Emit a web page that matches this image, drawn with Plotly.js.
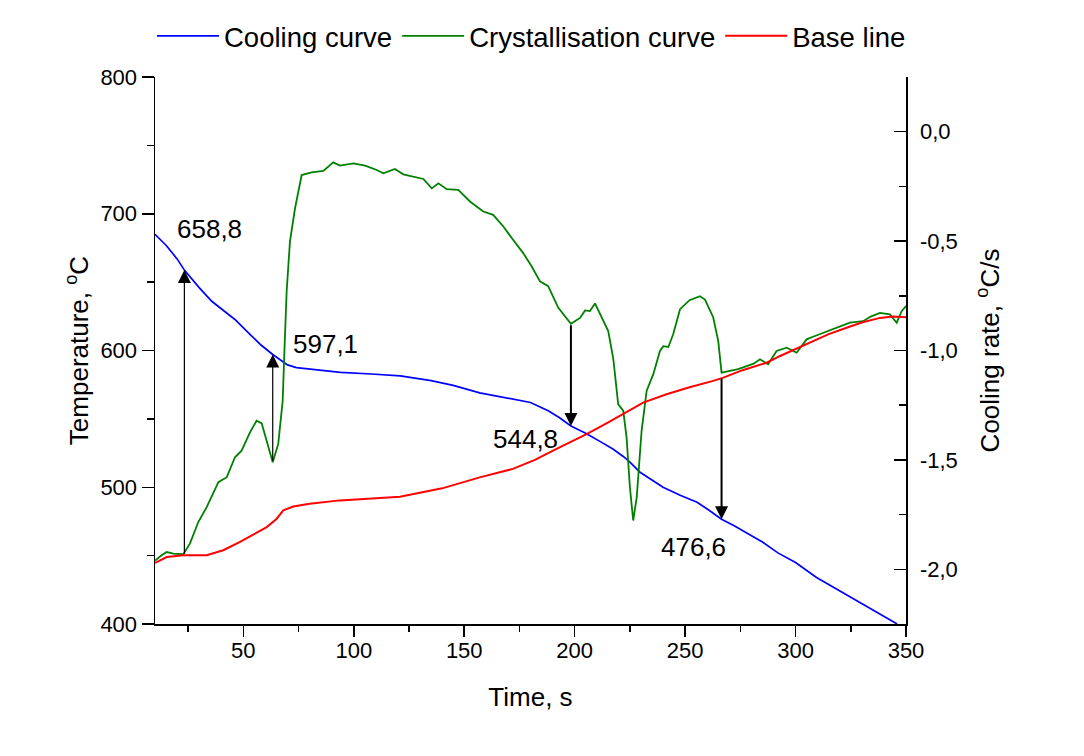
<!DOCTYPE html>
<html>
<head>
<meta charset="utf-8">
<script src="https://cdn.plot.ly/plotly-3.0.1.min.js"></script>
<style>
  html, body { margin: 0; padding: 0; background: #ffffff; }
  #chart { width: 1084px; height: 756px; }
</style>
</head>
<body>
<div id="chart"></div>
<script>
// ---- Data ----
// Cooling curve: temperature (°C) vs time (s), left axis
const coolTime = [10, 15, 20, 23.3, 30, 35.7, 42, 46.2, 53, 58, 63.3, 66, 68, 70, 74, 80, 94, 108, 121, 135, 145, 157, 170, 180, 188, 193, 198.3, 205, 212, 217.3, 222, 225, 229.6, 235, 240, 248, 255.4, 261, 266.5, 272, 278, 285, 292, 300, 309.5, 318, 327, 336, 346];
const coolTemp = [685, 677, 667, 658.8, 646, 636, 628, 622.7, 611.8, 604, 597.1, 594, 591.5, 589.5, 587.5, 586.5, 584, 582.8, 581.5, 578, 574.5, 569, 565, 562, 556, 551, 544.8, 539.5, 533, 528, 522.5, 518.3, 511, 505, 500, 494, 489, 483, 476.6, 472, 466.5, 460, 452, 445, 434, 426, 418, 409.5, 400];

// Crystallisation curve: cooling rate (°C/s) vs time (s), right axis
const crysTime = [10, 11, 13, 15.3, 18.3, 22.8, 25.8, 29.6, 33.4, 38.7, 42.5, 46.2, 49.2, 53, 56, 58.3, 60.6, 63.3, 65.8, 67.8, 68.6, 69.6, 71.1, 73.4, 76.4, 80.9, 86.2, 90.7, 93.7, 96, 99.8, 105.1, 110.4, 113.4, 118.6, 122.4, 126.9, 131.5, 135.3, 138.3, 142.1, 147.3, 152.6, 158.6, 163.1, 167.7, 171.5, 176.7, 180.5, 184.3, 188, 192.6, 198.3, 202.4, 204.7, 206.9, 209.2, 212.9, 215.2, 217.5, 219.7, 222, 223.5, 225, 226.5, 228.1, 230.3, 232.6, 235.6, 238.6, 240.1, 242.4, 244.6, 247.7, 252, 256.7, 259, 262.7, 265, 266.5, 270.3, 274, 277.9, 281, 283.9, 287.6, 291.4, 296, 300.5, 305, 308.5, 312.5, 315.5, 318.6, 321.5, 324.6, 330.6, 334, 338.2, 342.7, 345.8, 348, 350];
const crysRate = [-1.96, -1.951, -1.936, -1.921, -1.928, -1.931, -1.883, -1.784, -1.716, -1.602, -1.579, -1.488, -1.458, -1.374, -1.321, -1.333, -1.412, -1.511, -1.427, -1.23, -1.0, -0.73, -0.501, -0.35, -0.198, -0.186, -0.179, -0.14, -0.155, -0.152, -0.145, -0.155, -0.175, -0.19, -0.17, -0.195, -0.205, -0.216, -0.259, -0.236, -0.263, -0.266, -0.319, -0.365, -0.38, -0.433, -0.486, -0.555, -0.615, -0.684, -0.706, -0.805, -0.878, -0.851, -0.817, -0.82, -0.785, -0.866, -0.911, -1.039, -1.245, -1.276, -1.397, -1.625, -1.777, -1.67, -1.367, -1.184, -1.108, -1.002, -0.98, -0.984, -0.926, -0.811, -0.77, -0.752, -0.767, -0.848, -0.957, -1.101, -1.093, -1.085, -1.071, -1.06, -1.04, -1.063, -1.002, -0.987, -1.01, -0.949, -0.935, -0.919, -0.91, -0.896, -0.885, -0.873, -0.866, -0.845, -0.828, -0.835, -0.873, -0.82, -0.797];

// Base line: cooling rate (°C/s) vs time (s), right axis
const baseTime = [10, 11, 15.3, 22.8, 33.4, 40.9, 48.5, 55, 60.6, 65, 68.1, 72.6, 80, 93.7, 120.9, 140, 157, 172, 182, 191.8, 205.4, 215, 222, 231, 241.6, 252, 262.7, 267.3, 276, 286.9, 293, 300.5, 308, 315, 323.1, 330, 338.2, 344, 350];
const baseRate = [-1.97, -1.966, -1.944, -1.936, -1.936, -1.913, -1.875, -1.84, -1.807, -1.77, -1.731, -1.713, -1.7, -1.685, -1.668, -1.63, -1.58, -1.541, -1.5, -1.45, -1.382, -1.33, -1.291, -1.238, -1.2, -1.168, -1.139, -1.124, -1.09, -1.056, -1.025, -0.99, -0.957, -0.925, -0.896, -0.872, -0.851, -0.845, -0.848];

// Characteristic points (arrows): time, temperature at tip, cooling rate at tail
const markTime = [23.3, 63.3, 198.3, 266.5];
const markTemp = [658.8, 597.1, 544.8, 476.6];
const markTailRate = [-1.936, -1.511, -0.878, -1.121];
const markWidth = [1.2, 1.2, 2, 2];
const markLabels = ['658,8', '597,1', '544,8', '476,6'];
const labelTime = [34.8, 87.3, 177.9, 254];
const labelTemp = [688.5, 605.1, 535.3, 456.3];

// Axis ticks / ranges
const xRange = [10, 350];
const tRange = [400, 800];
const rRange = [-2.25, 0.25];
const rateTickVals = [0, -0.5, -1, -1.5, -2];
const rateTickText = ['0,0', '-0,5', '-1,0', '-1,5', '-2,0'];

// ---- Build ----
const FONT = 'Liberation Sans, Arial, sans-serif';
function rateToTemp(r) {
  return tRange[0] + (r - rRange[0]) * (tRange[1] - tRange[0]) / (rRange[1] - rRange[0]);
}

const traces = [
  { x: coolTime, y: coolTemp, type: 'scatter', mode: 'lines', name: 'Cooling curve',
    line: { color: '#0000ff', width: 1.7 }, yaxis: 'y' },
  { x: crysTime, y: crysRate, type: 'scatter', mode: 'lines', name: 'Crystallisation curve',
    line: { color: '#008000', width: 1.8 }, yaxis: 'y2' },
  { x: baseTime, y: baseRate, type: 'scatter', mode: 'lines', name: 'Base line',
    line: { color: '#ff0000', width: 2 }, yaxis: 'y2' }
];

const annotations = [];
for (let i = 0; i < markTime.length; i++) {
  annotations.push({
    x: markTime[i], y: markTemp[i], xref: 'x', yref: 'y',
    ax: markTime[i], ay: rateToTemp(markTailRate[i]), axref: 'x', ayref: 'y',
    text: '', showarrow: true, arrowhead: 2, arrowsize: 2.6 / markWidth[i],
    arrowwidth: markWidth[i], arrowcolor: '#000000', standoff: 0, startstandoff: 0
  });
  annotations.push({
    x: labelTime[i], y: labelTemp[i], xref: 'x', yref: 'y',
    text: markLabels[i], showarrow: false,
    font: { family: FONT, size: 26, color: '#000000' }
  });
}

const layout = {
  width: 1084, height: 756,
  margin: { l: 155, r: 178, t: 75, b: 132 },
  paper_bgcolor: '#ffffff', plot_bgcolor: '#ffffff',
  separators: ', ',
  font: { family: FONT, color: '#000000' },
  showlegend: true,
  legend: {
    orientation: 'h', x: -0.004, xanchor: 'left', y: 1.075, yanchor: 'middle',
    font: { family: FONT, size: 27.5, color: '#000000' },
    bgcolor: 'rgba(0,0,0,0)', itemwidth: 62, tracegroupgap: 0
  },
  xaxis: {
    range: xRange, tickmode: 'linear', tick0: 0, dtick: 50,
    ticks: 'outside', ticklen: 11, tickwidth: 1.5, tickcolor: '#000',
    minor: { ticks: 'outside', dtick: 25, ticklen: 6, tickwidth: 1.5, tickcolor: '#000' },
    showline: true, linecolor: '#000', linewidth: 1.5, mirror: false,
    showgrid: false, zeroline: false, ticklabelstandoff: -5,
    tickfont: { family: FONT, size: 22, color: '#000' },
    title: { text: 'Time, s', font: { family: FONT, size: 26, color: '#000' }, standoff: 26 }
  },
  yaxis: {
    range: tRange, tickmode: 'linear', tick0: 0, dtick: 100,
    ticks: 'outside', ticklen: 12, tickwidth: 1.5, tickcolor: '#000',
    minor: { ticks: 'outside', dtick: 50, ticklen: 7, tickwidth: 1.5, tickcolor: '#000' },
    showline: true, linecolor: '#000', linewidth: 1.5, mirror: false,
    showgrid: false, zeroline: false,
    tickfont: { family: FONT, size: 22, color: '#000' },
    title: { text: 'Temperature, <sup>o</sup>C', font: { family: FONT, size: 26, color: '#000' }, standoff: 4 }
  },
  yaxis2: {
    overlaying: 'y', side: 'right', anchor: 'x',
    range: rRange, tickmode: 'array', tickvals: rateTickVals, ticktext: rateTickText,
    ticks: 'inside', ticklen: 12, tickwidth: 1.5, tickcolor: '#000',
    minor: { tickmode: 'linear', tick0: 0, dtick: 0.25, ticks: 'inside', ticklen: 7, tickwidth: 1.5, tickcolor: '#000' },
    showline: true, linecolor: '#000', linewidth: 1.5,
    showgrid: false, zeroline: false, ticklabelstandoff: 8,
    tickfont: { family: FONT, size: 22, color: '#000' },
    title: { text: 'Cooling rate, <sup>o</sup>C/s', font: { family: FONT, size: 26, color: '#000' }, standoff: 24 }
  },
  annotations: annotations
};

Plotly.newPlot('chart', traces, layout, { displayModeBar: false, staticPlot: true });
</script>
</body>
</html>
